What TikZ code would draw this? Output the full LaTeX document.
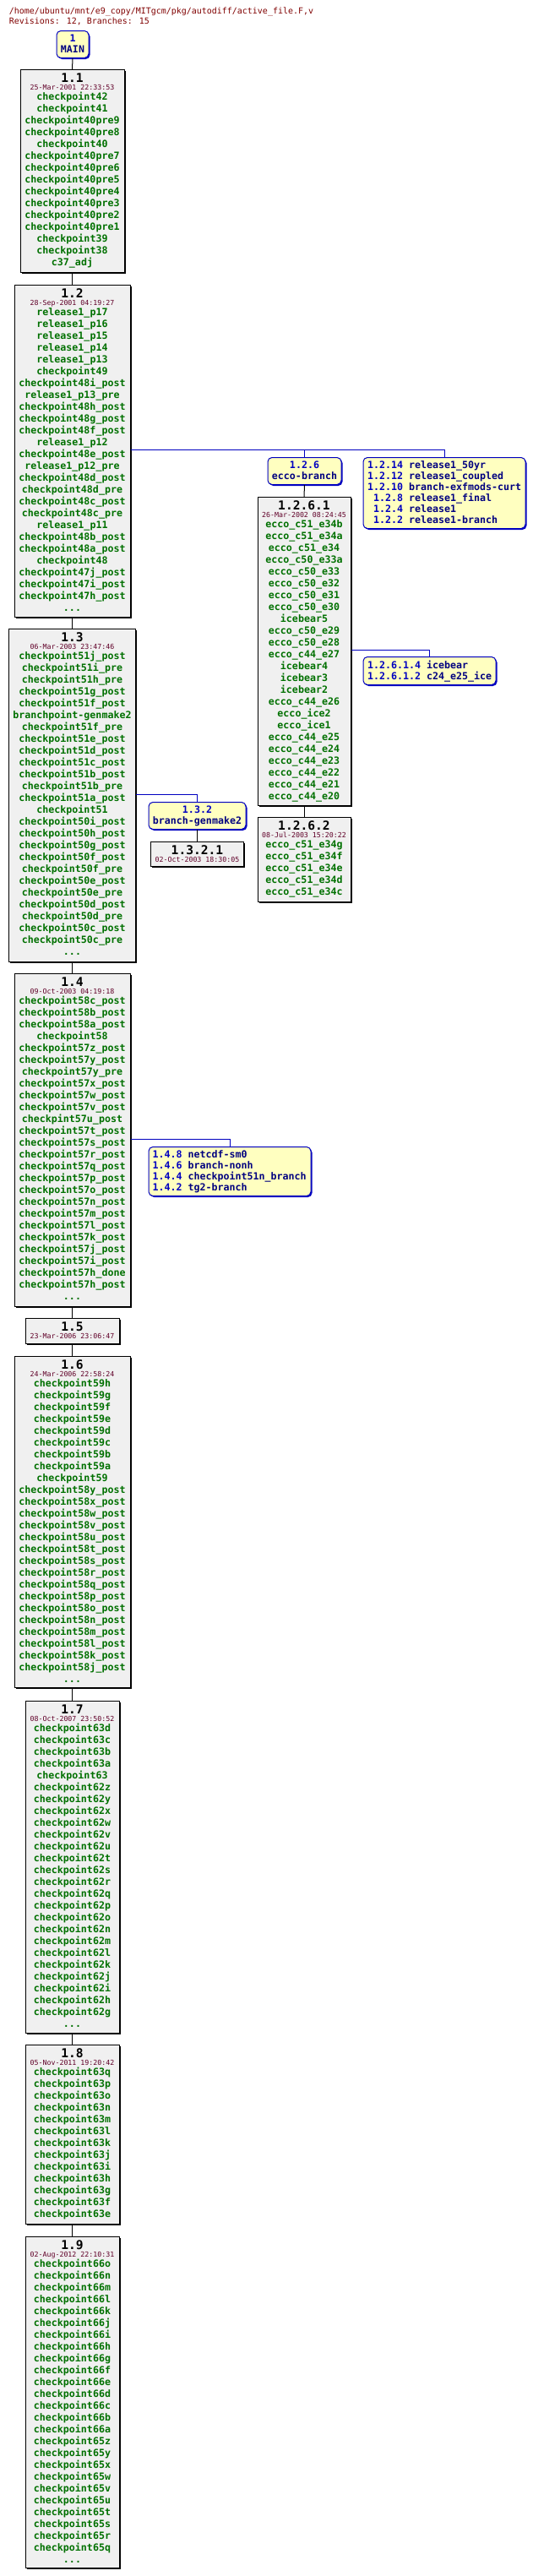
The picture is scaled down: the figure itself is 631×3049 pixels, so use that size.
\documentclass[tikz,border=0pt]{standalone}
\usepackage{fontspec}
\usetikzlibrary{shadows}
\newfontfamily\dmono{DejaVu Sans Mono}
\definecolor{revbg}{RGB}{240,240,240}
\definecolor{tagc}{RGB}{0,112,0}
\definecolor{datec}{RGB}{96,0,40}
\definecolor{brc}{RGB}{0,0,192}
\definecolor{brnc}{RGB}{0,0,128}
\definecolor{brbg}{RGB}{255,255,192}
\definecolor{hdrc}{RGB}{128,0,0}
\newcommand{\tdots}{...}
\tikzset{
  revbox/.style={draw=black, line width=1pt, fill=revbg, rectangle, inner sep=0pt,
    drop shadow={shadow xshift=1.5pt, shadow yshift=-1.5pt, fill=black, opacity=1}},
  brbox/.style={draw=brc, line width=1pt, fill=brbg, rectangle, rounded corners=5pt, inner sep=0pt,
    drop shadow={shadow xshift=1.5pt, shadow yshift=-1.5pt, fill=brc, opacity=1}},
  revtitle/.style={inner sep=0pt, anchor=base, font=\dmono\bfseries\fontsize{14.6}{16}\selectfont, text=black},
  revdate/.style={inner sep=0pt, anchor=base, font=\dmono\fontsize{8.3}{10}\selectfont, text=datec},
  tagtext/.style={inner sep=0pt, anchor=base, font=\dmono\bfseries\fontsize{11.63}{14}\selectfont, text=tagc},
  brtext/.style={inner sep=0pt, font=\dmono\bfseries\fontsize{11.63}{14}\selectfont},
  hdrtext/.style={inner sep=0pt, anchor=base west, font=\dmono\fontsize{9.97}{12}\selectfont, text=hdrc},
  revline/.style={draw=black, line width=1pt},
  brline/.style={draw=brc, line width=1pt},
}
% #1 name, #2 cx, #3 top, #4 bottom, #5 width, #6 title, #7 date, #8 tags
\newcommand{\revnode}[8]{%
  \pgfmathsetmacro{\rvh}{#4-#3}%
  \node[revbox, minimum width=#5pt, minimum height=\rvh pt, anchor=north] (#1) at (#2,-#3) {};%
  \node[revtitle] (#1-title) at (#2,{-#3-15.8}) {#6};%
  \node[revdate] (#1-date) at (#2,{-#3-24.5}) {#7};%
  \foreach \tg [count=\ti from 0] in {#8} {\node[tagtext] (#1-tag\ti) at (#2,{-#3-36.5-14*\ti}) {\tg};}%
}
\newcommand{\revnodeshort}[7]{%
  \pgfmathsetmacro{\rvh}{#4-#3}%
  \node[revbox, minimum width=#5pt, minimum height=\rvh pt, anchor=north] (#1) at (#2,-#3) {};%
  \node[revtitle] (#1-title) at (#2,{-#3-15.8}) {#6};%
  \node[revdate] (#1-date) at (#2,{-#3-24.5}) {#7};%
}
\begin{document}
\begin{tikzpicture}[x=1pt,y=1pt]
\useasboundingbox (0,0) rectangle (631,-3049);
\fill[white] (0,0) rectangle (631,-3049);
% header
\node[hdrtext] (hdr1) at (10.7,-16.6) {/home/ubuntu/mnt/e9\_copy/MITgcm/pkg/autodiff/active\_file.F,v};
\node[hdrtext] (hdr2) at (10.7,-28.6) {Revisions: 12, Branches: 15};
% MAIN
\node[brbox, minimum width=38pt, minimum height=32pt, anchor=north] (bmain) at (86,-36) {};
\node[brtext, anchor=base, text=brc] (bmain-num) at (86,-49) {1};
\node[brtext, anchor=base, text=brnc] (bmain-name) at (86,-62) {MAIN};
% trunk
\revnode{r11}{85.5}{82}{322}{123}{1.1}{25-Mar-2001 22:33:53}{checkpoint42,checkpoint41,checkpoint40pre9,checkpoint40pre8,checkpoint40,checkpoint40pre7,checkpoint40pre6,checkpoint40pre5,checkpoint40pre4,checkpoint40pre3,checkpoint40pre2,checkpoint40pre1,checkpoint39,checkpoint38,c37\_adj}
\revnode{r12}{85.5}{337}{730}{137}{1.2}{28-Sep-2001 04:19:27}{release1\_p17,release1\_p16,release1\_p15,release1\_p14,release1\_p13,checkpoint49,checkpoint48i\_post,release1\_p13\_pre,checkpoint48h\_post,checkpoint48g\_post,checkpoint48f\_post,release1\_p12,checkpoint48e\_post,release1\_p12\_pre,checkpoint48d\_post,checkpoint48d\_pre,checkpoint48c\_post,checkpoint48c\_pre,release1\_p11,checkpoint48b\_post,checkpoint48a\_post,checkpoint48,checkpoint47j\_post,checkpoint47i\_post,checkpoint47h\_post,\tdots}
\revnode{r13}{85.5}{744}{1138}{150.5}{1.3}{06-Mar-2003 23:47:46}{checkpoint51j\_post,checkpoint51i\_pre,checkpoint51h\_pre,checkpoint51g\_post,checkpoint51f\_post,branchpoint-genmake2,checkpoint51f\_pre,checkpoint51e\_post,checkpoint51d\_post,checkpoint51c\_post,checkpoint51b\_post,checkpoint51b\_pre,checkpoint51a\_post,checkpoint51,checkpoint50i\_post,checkpoint50h\_post,checkpoint50g\_post,checkpoint50f\_post,checkpoint50f\_pre,checkpoint50e\_post,checkpoint50e\_pre,checkpoint50d\_post,checkpoint50d\_pre,checkpoint50c\_post,checkpoint50c\_pre,\tdots}
\revnode{r14}{85.5}{1152}{1546}{137}{1.4}{09-Oct-2003 04:19:18}{checkpoint58c\_post,checkpoint58b\_post,checkpoint58a\_post,checkpoint58,checkpoint57z\_post,checkpoint57y\_post,checkpoint57y\_pre,checkpoint57x\_post,checkpoint57w\_post,checkpoint57v\_post,checkpint57u\_post,checkpoint57t\_post,checkpoint57s\_post,checkpoint57r\_post,checkpoint57q\_post,checkpoint57p\_post,checkpoint57o\_post,checkpoint57n\_post,checkpoint57m\_post,checkpoint57l\_post,checkpoint57k\_post,checkpoint57j\_post,checkpoint57i\_post,checkpoint57h\_done,checkpoint57h\_post,\tdots}
\revnodeshort{r15}{85.5}{1560}{1590}{111}{1.5}{23-Mar-2006 23:06:47}
\revnode{r16}{85.5}{1605}{1997}{137}{1.6}{24-Mar-2006 22:58:24}{checkpoint59h,checkpoint59g,checkpoint59f,checkpoint59e,checkpoint59d,checkpoint59c,checkpoint59b,checkpoint59a,checkpoint59,checkpoint58y\_post,checkpoint58x\_post,checkpoint58w\_post,checkpoint58v\_post,checkpoint58u\_post,checkpoint58t\_post,checkpoint58s\_post,checkpoint58r\_post,checkpoint58q\_post,checkpoint58p\_post,checkpoint58o\_post,checkpoint58n\_post,checkpoint58m\_post,checkpoint58l\_post,checkpoint58k\_post,checkpoint58j\_post,\tdots}
\revnode{r17}{85.5}{2013}{2406}{111}{1.7}{08-Oct-2007 23:50:52}{checkpoint63d,checkpoint63c,checkpoint63b,checkpoint63a,checkpoint63,checkpoint62z,checkpoint62y,checkpoint62x,checkpoint62w,checkpoint62v,checkpoint62u,checkpoint62t,checkpoint62s,checkpoint62r,checkpoint62q,checkpoint62p,checkpoint62o,checkpoint62n,checkpoint62m,checkpoint62l,checkpoint62k,checkpoint62j,checkpoint62i,checkpoint62h,checkpoint62g,\tdots}
\revnode{r18}{85.5}{2420}{2632}{111}{1.8}{05-Nov-2011 19:20:42}{checkpoint63q,checkpoint63p,checkpoint63o,checkpoint63n,checkpoint63m,checkpoint63l,checkpoint63k,checkpoint63j,checkpoint63i,checkpoint63h,checkpoint63g,checkpoint63f,checkpoint63e}
\revnode{r19}{85.5}{2647}{3039}{111}{1.9}{02-Aug-2012 22:10:31}{checkpoint66o,checkpoint66n,checkpoint66m,checkpoint66l,checkpoint66k,checkpoint66j,checkpoint66i,checkpoint66h,checkpoint66g,checkpoint66f,checkpoint66e,checkpoint66d,checkpoint66c,checkpoint66b,checkpoint66a,checkpoint65z,checkpoint65y,checkpoint65x,checkpoint65w,checkpoint65v,checkpoint65u,checkpoint65t,checkpoint65s,checkpoint65r,checkpoint65q,\tdots}
% branch 1.2.6
\node[brbox, minimum width=87pt, minimum height=32pt, anchor=north] (b126) at (360.5,-541) {};
\node[brtext, anchor=base, text=brc] (b126-num) at (360.5,-554) {1.2.6};
\node[brtext, anchor=base, text=brnc] (b126-name) at (360.5,-567) {ecco-branch};
\revnode{r1261}{360}{588}{953}{110}{1.2.6.1}{26-Mar-2002 08:24:45}{ecco\_c51\_e34b,ecco\_c51\_e34a,ecco\_c51\_e34,ecco\_c50\_e33a,ecco\_c50\_e33,ecco\_c50\_e32,ecco\_c50\_e31,ecco\_c50\_e30,icebear5,ecco\_c50\_e29,ecco\_c50\_e28,ecco\_c44\_e27,icebear4,icebear3,icebear2,ecco\_c44\_e26,ecco\_ice2,ecco\_ice1,ecco\_c44\_e25,ecco\_c44\_e24,ecco\_c44\_e23,ecco\_c44\_e22,ecco\_c44\_e21,ecco\_c44\_e20}
\revnode{r1262}{360}{967}{1067}{110}{1.2.6.2}{08-Jul-2003 15:20:22}{ecco\_c51\_e34g,ecco\_c51\_e34f,ecco\_c51\_e34e,ecco\_c51\_e34d,ecco\_c51\_e34c}
% branch group 1.2.14 ...
\node[brbox, minimum width=192pt, minimum height=84pt, anchor=north] (b1214) at (526,-541) {};
\node[brtext, anchor=base west] (b1214-l1) at (434.8,-554) {\color{brc}1.2.14 \color{brnc}release1\_50yr};
\node[brtext, anchor=base west] (b1214-l2) at (434.8,-567) {\color{brc}1.2.12 \color{brnc}release1\_coupled};
\node[brtext, anchor=base west] (b1214-l3) at (434.8,-580) {\color{brc}1.2.10 \color{brnc}branch-exfmods-curt};
\node[brtext, anchor=base west] (b1214-l4) at (441.8,-593) {\color{brc}1.2.8 \color{brnc}release1\_final};
\node[brtext, anchor=base west] (b1214-l5) at (441.8,-606) {\color{brc}1.2.4 \color{brnc}release1};
\node[brtext, anchor=base west] (b1214-l6) at (441.8,-619) {\color{brc}1.2.2 \color{brnc}release1-branch};
% branch group 1.2.6.1.x
\node[brbox, minimum width=157pt, minimum height=33pt, anchor=north] (b12614) at (508.5,-777) {};
\node[brtext, anchor=base west] (b12614-l1) at (434.8,-791) {\color{brc}1.2.6.1.4 \color{brnc}icebear};
\node[brtext, anchor=base west] (b12614-l2) at (434.8,-804) {\color{brc}1.2.6.1.2 \color{brnc}c24\_e25\_ice};
% branch 1.3.2
\node[brbox, minimum width=115pt, minimum height=32pt, anchor=north] (b132) at (233.5,-949) {};
\node[brtext, anchor=base, text=brc] (b132-num) at (233.5,-962) {1.3.2};
\node[brtext, anchor=base, text=brnc] (b132-name) at (233.5,-975) {branch-genmake2};
\revnodeshort{r1321}{233.5}{996}{1025}{110}{1.3.2.1}{02-Oct-2003 18:30:05}
% branch group 1.4.x
\node[brbox, minimum width=192pt, minimum height=58pt, anchor=north] (b148) at (272,-1357) {};
\node[brtext, anchor=base west] (b148-l1) at (180.3,-1370) {\color{brc}1.4.8 \color{brnc}netcdf-sm0};
\node[brtext, anchor=base west] (b148-l2) at (180.3,-1383) {\color{brc}1.4.6 \color{brnc}branch-nonh};
\node[brtext, anchor=base west] (b148-l3) at (180.3,-1396) {\color{brc}1.4.4 \color{brnc}checkpoint51n\_branch};
\node[brtext, anchor=base west] (b148-l4) at (180.3,-1409) {\color{brc}1.4.2 \color{brnc}tg2-branch};
% revision connectors
\draw[revline] (bmain.south) -- (r11.north);
\draw[revline] (r11.south) -- (r12.north);
\draw[revline] (r12.south) -- (r13.north);
\draw[revline] (r13.south) -- (r14.north);
\draw[revline] (r14.south) -- (r15.north);
\draw[revline] (r15.south) -- (r16.north);
\draw[revline] (r16.south) -- (r17.north);
\draw[revline] (r17.south) -- (r18.north);
\draw[revline] (r18.south) -- (r19.north);
\draw[revline] (b126.south) -- (r1261.north);
\draw[revline] (r1261.south) -- (r1262.north);
\draw[revline] (b132.south) -- (r1321.north);
% branch connectors
\coordinate (j12) at (360.5,-532);
\coordinate (j1261) at (508.5,-769);
\coordinate (j13) at (233.5,-940);
\coordinate (j14) at (272,-1348);
\draw[brline] (r12.east |- j12) -| (b1214.north);
\draw[brline] (j12) -- (b126.north);
\draw[brline] (r1261.east |- j1261) -| (b12614.north);
\draw[brline] (r13.east |- j13) -| (b132.north);
\draw[brline] (r14.east |- j14) -| (b148.north);
\end{tikzpicture}
\end{document}
